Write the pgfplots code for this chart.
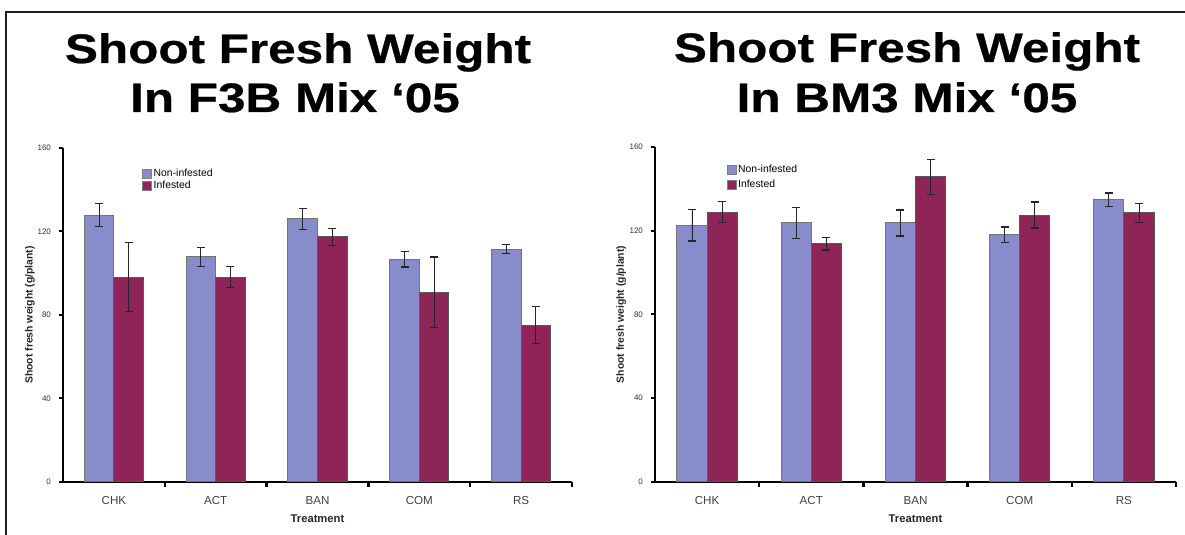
\documentclass[border=0pt]{standalone}
\usepackage{fontspec}
\setmainfont{Liberation Sans}
\newfontfamily\titlefont[FakeStretch=1.2,FakeBold=0.6]{Liberation Sans}
\usepackage{pgfplots}
\pgfplotsset{compat=1.18}
\definecolor{nonblue}{RGB}{137,140,202}
\definecolor{infred}{RGB}{142,36,88}
\definecolor{framegray}{RGB}{30,30,30}

\pgfplotsset{
  shootaxis/.style={
    scale only axis,
    axis x line=bottom, axis y line=left,
    axis line style={-, line width=1.3pt, black},
    xmin=-0.5, xmax=4.5, ymin=0, ymax=160,
    enlargelimits=false,
    clip=false,
    ybar, bar width=0.29,
    ytick={0,40,80,120,160},
    xtick={0,1,2,3,4},
    xticklabels={CHK,ACT,BAN,COM,RS},
    xtick style={draw=none},
    extra x ticks={0.5,1.5,2.5,3.5,4.5},
    extra x tick labels={},
    extra x tick style={xtick style={draw=black, line width=1.2pt}, major tick length=2.5pt},
    tick align=outside,
    ytick style={draw=black, line width=1pt},
    major tick length=2pt,
    /pgf/number format/assume math mode=true,
    yticklabel style={font=\fontsize{4}{4}\selectfont, text=black!80, xshift=-0.5pt},
    xticklabel style={font=\fontsize{5.8}{6}\selectfont, text=black!75, yshift=-1.5pt},
    xlabel={Treatment},
    every axis x label/.style={at={(axis description cs:0.5,-0.11)}, anchor=center, font=\bfseries\fontsize{5.6}{6}\selectfont, text=black!85},
    ylabel={Shoot fresh weight (g/plant)},
    every axis y label/.style={at={(axis description cs:-0.065,0.5)}, rotate=90, anchor=center, font=\bfseries\fontsize{5.2}{6}\selectfont, text=black!85},
    legend cell align=left,
  },
  sq legend/.style={legend image code/.code={\draw[##1,draw=black!50,line width=0.3pt] (0pt,-2.2pt) rectangle (4.4pt,2.2pt);}},
  blueplot/.style={fill=nonblue, draw=black!55, line width=0.5pt, bar shift=-0.145, sq legend,
    error bars/.cd, y dir=both, y explicit,
    error bar style={line width=0.45pt, black!85},
    error mark options={rotate=90, mark size=2pt, line width=0.6pt, black!85}},
  redplot/.style={fill=infred, draw=black!65, line width=0.5pt, bar shift=0.145, sq legend,
    error bars/.cd, y dir=both, y explicit,
    error bar style={line width=0.45pt, black!85},
    error mark options={rotate=90, mark size=2pt, line width=0.6pt, black!85}},
}

\begin{document}
\begin{tikzpicture}[x=0.5pt,y=0.5pt]
\useasboundingbox (0,0) rectangle (1185,535);
% outer frame
\draw[framegray, line width=1.1pt] (6,0) -- (6,523) -- (1185,523);

% titles
\node[anchor=base, font=\titlefont\bfseries\fontsize{20.6}{24}\selectfont] at (298,535-63) {Shoot Fresh Weight};
\node[anchor=base, font=\titlefont\bfseries\fontsize{20.6}{24}\selectfont] at (295,535-112) {In F3B Mix ‘05};
\node[anchor=base, font=\titlefont\bfseries\fontsize{20.6}{24}\selectfont] at (907,535-62) {Shoot Fresh Weight};
\node[anchor=base, font=\titlefont\bfseries\fontsize{20.6}{24}\selectfont] at (907,535-112) {In BM3 Mix ‘05};

% left chart
\begin{axis}[shootaxis,
  at={(31.5pt,26.5pt)}, anchor=south west,
  width=254.5pt, height=167pt,
  legend style={at={(axis description cs:0.155,0.945)}, anchor=north west, draw=none, fill=none,
    font=\fontsize{5.2}{6}\selectfont, inner sep=0pt, row sep=-1.2pt, nodes={inner sep=1pt}},
]
\addplot[blueplot] coordinates {
  (0,127.9) +- (0,5.5)
  (1,107.8) +- (0,4.5)
  (2,126.0) +- (0,5.0)
  (3,106.8) +- (0,3.8)
  (4,111.6) +- (0,2.1)
};
\addplot[redplot] coordinates {
  (0,98.2) +- (0,16.5)
  (1,98.2) +- (0,5.0)
  (2,117.4) +- (0,4.0)
  (3,91.0) +- (0,16.8)
  (4,75.2) +- (0,9.0)
};
\legend{Non-infested,Infested}
\end{axis}

% right chart
\begin{axis}[shootaxis,
  at={(327.5pt,26.5pt)}, anchor=south west,
  width=260.5pt, height=167.5pt,
  legend style={at={(axis description cs:0.137,0.955)}, anchor=north west, draw=none, fill=none,
    font=\fontsize{5.2}{6}\selectfont, inner sep=0pt, row sep=0.3pt, nodes={inner sep=1pt}},
]
\addplot[blueplot] coordinates {
  (0,122.7) +- (0,7.6)
  (1,123.7) +- (0,7.4)
  (2,123.7) +- (0,6.2)
  (3,118.0) +- (0,3.8)
  (4,134.7) +- (0,3.3)
};
\addplot[redplot] coordinates {
  (0,128.9) +- (0,5.0)
  (1,113.7) +- (0,2.9)
  (2,145.7) +- (0,8.4)
  (3,127.5) +- (0,6.2)
  (4,128.5) +- (0,4.5)
};
\legend{Non-infested,Infested}
\end{axis}
\end{tikzpicture}
\end{document}
